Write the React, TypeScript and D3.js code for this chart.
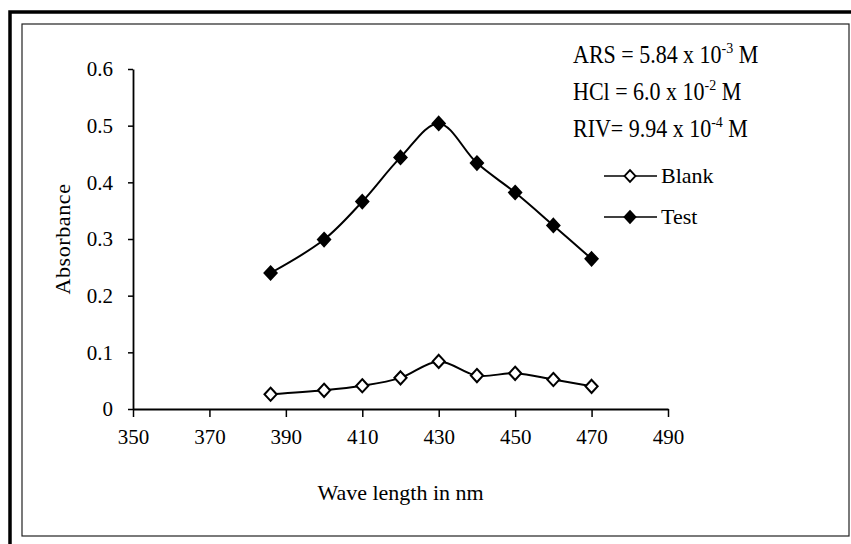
import React, { useEffect, useRef } from 'react'
import { select, scaleLinear, axisBottom, axisLeft, line, curveCatmullRom, symbol, symbolDiamond } from 'd3'

const wavelengths = [386, 400, 410, 420, 430, 440, 450, 460, 470]
const blank = [0.026, 0.033, 0.041, 0.055, 0.084, 0.059, 0.063, 0.052, 0.04]
const test = [0.24, 0.299, 0.366, 0.444, 0.504, 0.434, 0.382, 0.324, 0.265]
const xTicks = [350, 370, 390, 410, 430, 450, 470, 490]
const yTicks = [0, 0.1, 0.2, 0.3, 0.4, 0.5, 0.6]
const notes = [
  { pre: 'ARS = 5.84 x 10', sup: '-3', post: ' M' },
  { pre: 'HCl = 6.0 x 10', sup: '-2', post: ' M' },
  { pre: 'RIV= 9.94 x 10', sup: '-4', post: ' M' },
]

function App() {
  const contRef = useRef(null)
  const W = 851, H = 544
  const font = '"Liberation Serif", "Times New Roman", serif'

  useEffect(() => {
    const svg = select(contRef.current)
    svg.selectAll('*').remove()

    // frames
    svg.append('rect').attr('x', 10).attr('y', 12).attr('width', 900).attr('height', 600)
      .attr('fill', 'none').attr('stroke', '#000').attr('stroke-width', 3.5)
    svg.append('rect').attr('x', 22).attr('y', 24).attr('width', 827).attr('height', 512)
      .attr('fill', 'none').attr('stroke', '#222').attr('stroke-width', 1.2)

    const x = scaleLinear().domain([350, 490]).range([133, 668])
    const y = scaleLinear().domain([0, 0.6]).range([409, 69])

    // axes
    const gx = svg.append('g').attr('transform', `translate(0,${y(0)})`)
      .call(axisBottom(x).tickValues(xTicks).tickFormat(d => String(d)).tickSizeInner(8).tickSizeOuter(0).tickPadding(12))
    const gy = svg.append('g').attr('transform', `translate(${x(350)},0)`)
      .call(axisLeft(y).tickValues(yTicks).tickFormat(d => String(d)).tickSizeInner(5).tickSizeOuter(0).tickPadding(15))
    ;[gx, gy].forEach(g => {
      g.select('.domain').attr('stroke', '#000').attr('stroke-width', 1.8)
      g.selectAll('.tick line').attr('stroke', '#000').attr('stroke-width', 1.5)
      g.selectAll('.tick text').attr('fill', '#000').style('font-family', font).style('font-size', '21px')
    })

    // axis titles
    svg.append('text').attr('x', (x(350) + x(490)) / 2).attr('y', 500).attr('text-anchor', 'middle')
      .style('font-family', font).style('font-size', '22px').text('Wave length in nm')
    svg.append('text').attr('transform', `translate(70,${y(0.3) + 0})rotate(-90)`).attr('text-anchor', 'middle')
      .style('font-family', font).style('font-size', '22px').style('letter-spacing', '0.6px').text('Absorbance')

    // series
    const lineGen = line<number>().x((d, i) => x(wavelengths[i])).y(d => y(d)).curve(curveCatmullRom.alpha(0.5))
    const series = [
      { values: blank, fill: '#fff' },
      { values: test, fill: '#000' },
    ]
    const diamond = symbol().type(symbolDiamond).size(50)
    series.forEach(s => {
      svg.append('path').attr('d', lineGen(s.values)).attr('fill', 'none').attr('stroke', '#000').attr('stroke-width', 2)
      svg.selectAll(null).data(s.values).join('path')
        .attr('d', diamond)
        .attr('transform', (d, i) => `translate(${x(wavelengths[i])},${y(d)})scale(1.6,1)`)
        .attr('fill', s.fill).attr('stroke', '#000').attr('stroke-width', 1.5)
    })

    // notes
    notes.forEach((n, i) => {
      const t = svg.append('text').attr('transform', `translate(573,${63 + i * 37})scale(1,1.1)`)
        .style('font-family', font).style('font-size', '22px').attr('fill', '#000')
      t.append('tspan').text(n.pre)
      t.append('tspan').attr('dy', -9).style('font-size', '14px').text(n.sup)
      t.append('tspan').attr('dy', 9).text(n.post)
    })

    // legend
    const legend = [
      { name: 'Blank', fill: '#fff', y: 176 },
      { name: 'Test', fill: '#000', y: 217 },
    ]
    legend.forEach(l => {
      svg.append('line').attr('x1', 604).attr('x2', 657).attr('y1', l.y).attr('y2', l.y)
        .attr('stroke', '#000').attr('stroke-width', 1.6)
      svg.append('path').attr('d', symbol().type(symbolDiamond).size(40)())
        .attr('transform', `translate(630,${l.y})scale(1.6,1)`)
        .attr('fill', l.fill).attr('stroke', '#000').attr('stroke-width', 1.4)
      svg.append('text').attr('x', 661).attr('y', l.y + 7)
        .style('font-family', font).style('font-size', '22px').text(l.name)
    })
  }, [])

  return (
    <svg ref={contRef} width={W} height={H} style={{ position: 'absolute', left: 0, top: 0, background: '#fff' }}></svg>
  )
}

export default App
